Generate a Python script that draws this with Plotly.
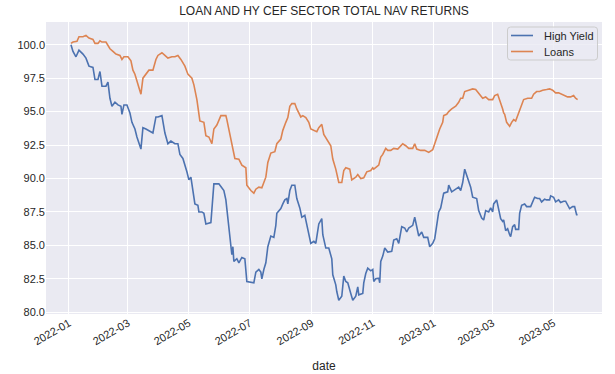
import plotly.graph_objects as go

# ---- data ----
hy_dates = [
    "2022-01-03", "2022-01-05", "2022-01-08", "2022-01-11", "2022-01-15", "2022-01-18", "2022-01-21", "2022-01-25", "2022-01-27", "2022-01-30",
    "2022-02-01", "2022-02-03", "2022-02-07", "2022-02-09", "2022-02-11", "2022-02-13", "2022-02-16", "2022-02-19", "2022-02-22", "2022-02-23", "2022-02-25", "2022-02-28",
    "2022-03-03", "2022-03-05", "2022-03-08", "2022-03-10", "2022-03-14", "2022-03-16", "2022-03-19", "2022-03-23", "2022-03-26", "2022-03-29", "2022-03-31",
    "2022-04-04", "2022-04-07", "2022-04-10", "2022-04-13", "2022-04-17", "2022-04-20", "2022-04-22", "2022-04-25", "2022-04-29",
    "2022-05-01", "2022-05-03", "2022-05-05", "2022-05-07", "2022-05-10", "2022-05-11", "2022-05-14", "2022-05-16", "2022-05-18", "2022-05-23", "2022-05-26", "2022-05-31",
    "2022-06-02", "2022-06-05", "2022-06-07", "2022-06-09", "2022-06-11", "2022-06-13", "2022-06-14", "2022-06-15", "2022-06-18", "2022-06-20", "2022-06-23", "2022-06-26", "2022-06-28",
    "2022-07-02", "2022-07-05", "2022-07-07", "2022-07-10", "2022-07-12", "2022-07-13", "2022-07-15", "2022-07-17", "2022-07-19", "2022-07-22", "2022-07-25", "2022-07-27", "2022-07-28",
    "2022-08-01", "2022-08-03", "2022-08-05", "2022-08-07", "2022-08-08", "2022-08-10", "2022-08-12", "2022-08-15", "2022-08-17", "2022-08-20", "2022-08-22", "2022-08-25", "2022-08-27", "2022-08-29", "2022-08-31",
    "2022-09-03", "2022-09-05", "2022-09-08", "2022-09-11", "2022-09-12", "2022-09-15", "2022-09-18", "2022-09-21", "2022-09-22", "2022-09-25", "2022-09-26", "2022-09-28",
    "2022-10-01", "2022-10-03", "2022-10-05", "2022-10-07", "2022-10-10", "2022-10-12", "2022-10-15", "2022-10-17", "2022-10-18", "2022-10-22", "2022-10-23", "2022-10-25", "2022-10-27", "2022-10-30",
    "2022-11-01", "2022-11-02", "2022-11-04", "2022-11-07", "2022-11-08", "2022-11-09", "2022-11-11", "2022-11-13", "2022-11-16", "2022-11-20", "2022-11-22", "2022-11-25", "2022-11-27", "2022-11-30",
    "2022-12-03", "2022-12-05", "2022-12-07", "2022-12-11", "2022-12-13", "2022-12-15", "2022-12-17", "2022-12-20", "2022-12-22", "2022-12-26", "2022-12-28", "2022-12-31",
    "2023-01-02", "2023-01-05", "2023-01-06", "2023-01-08", "2023-01-11", "2023-01-15", "2023-01-16", "2023-01-19", "2023-01-23", "2023-01-26", "2023-01-28", "2023-01-30",
    "2023-02-01", "2023-02-03", "2023-02-05", "2023-02-07", "2023-02-09", "2023-02-13", "2023-02-15", "2023-02-18", "2023-02-20", "2023-02-22", "2023-02-25", "2023-02-27",
    "2023-03-01", "2023-03-02", "2023-03-05", "2023-03-07", "2023-03-09", "2023-03-11", "2023-03-12", "2023-03-14", "2023-03-16", "2023-03-18", "2023-03-19", "2023-03-21", "2023-03-23", "2023-03-24", "2023-03-27", "2023-03-28", "2023-03-30",
    "2023-04-02", "2023-04-04", "2023-04-08", "2023-04-11", "2023-04-12", "2023-04-15", "2023-04-17", "2023-04-19", "2023-04-22", "2023-04-24", "2023-04-27", "2023-04-28",
    "2023-05-01", "2023-05-03", "2023-05-06", "2023-05-08", "2023-05-11", "2023-05-13", "2023-05-15", "2023-05-17", "2023-05-20", "2023-05-22", "2023-05-24", "2023-05-25",
]
hy_values = [
    100.0, 99.5, 99.1, 99.6, 99.3, 99.0, 98.4, 98.3, 97.4, 97.4,
    98.0, 96.9, 96.9, 97.2, 96.0, 95.4, 95.7, 95.5, 95.4, 94.8, 95.5, 95.5,
    94.9, 94.2, 93.7, 93.1, 92.2, 93.8, 93.7, 93.5, 93.4, 94.6, 94.6,
    94.7, 93.4, 92.6, 92.8, 92.6, 92.6, 91.8, 91.5, 90.5,
    89.9, 90.1, 88.9, 88.1, 88.0, 87.5, 87.5, 87.4, 86.6, 86.7, 89.6, 89.6,
    89.4, 89.1, 88.4, 87.0, 85.9, 84.3, 84.9, 83.8, 84.0, 83.7, 84.1, 84.0, 82.3,
    82.25, 82.2, 83.0, 83.2, 83.0, 82.5, 83.2, 83.7, 84.9, 85.7, 85.6, 86.5, 87.4,
    87.75, 88.1, 88.4, 88.5, 88.1, 89.1, 89.5, 89.5, 88.5, 87.8, 87.1, 87.25, 86.6, 86.0, 85.15,
    85.3, 85.15, 86.6, 87.0, 85.8, 84.8, 84.8, 84.0, 82.8, 82.05, 81.55, 80.9,
    81.2, 82.7, 82.3, 82.2, 81.4, 80.9, 81.2, 81.9, 81.3, 81.4, 82.2, 82.9, 83.3, 83.1,
    83.2, 82.3, 82.5, 82.55, 82.2, 83.8, 84.2, 84.8, 84.5, 84.55, 85.4, 85.5, 85.15, 86.4,
    86.3, 86.0, 86.3, 86.5, 87.1, 86.3, 85.7, 86.0, 85.6, 85.6, 84.9, 85.15,
    85.5, 87.0, 87.5, 87.8, 88.9, 89.0, 89.5, 89.0, 89.2, 89.35, 89.1, 89.7,
    90.7, 90.2, 89.7, 89.35, 88.6, 88.5, 87.6, 87.05, 86.9, 87.6, 87.5, 87.8,
    87.5, 88.1, 88.4, 87.6, 87.0, 86.8, 86.9, 86.1, 86.25, 85.8, 85.65, 86.4, 86.55, 86.2, 86.2, 87.4, 88.0,
    88.1, 87.9, 87.9, 88.4, 88.6, 88.5, 88.5, 88.25, 88.45, 88.4, 88.4, 88.7,
    88.6, 88.25, 88.4, 88.2, 88.3, 88.3, 88.0, 87.75, 87.9, 87.9, 87.3, 87.3,
]

loan_dates = [
    "2022-01-03", "2022-01-05", "2022-01-09", "2022-01-11", "2022-01-15", "2022-01-18", "2022-01-21", "2022-01-25", "2022-01-27", "2022-01-30",
    "2022-02-01", "2022-02-03", "2022-02-07", "2022-02-11", "2022-02-14", "2022-02-17", "2022-02-21", "2022-02-23", "2022-02-25",
    "2022-03-01", "2022-03-04", "2022-03-06", "2022-03-08", "2022-03-11", "2022-03-13", "2022-03-14", "2022-03-16", "2022-03-20", "2022-03-22", "2022-03-26", "2022-03-29", "2022-03-31",
    "2022-04-04", "2022-04-07", "2022-04-10", "2022-04-14", "2022-04-17", "2022-04-20", "2022-04-23", "2022-04-27", "2022-04-30",
    "2022-05-04", "2022-05-06", "2022-05-09", "2022-05-12", "2022-05-16", "2022-05-18", "2022-05-21", "2022-05-24", "2022-05-26", "2022-05-29",
    "2022-06-02", "2022-06-07", "2022-06-08", "2022-06-11", "2022-06-13", "2022-06-14", "2022-06-16", "2022-06-20", "2022-06-23", "2022-06-27", "2022-06-28",
    "2022-07-02", "2022-07-05", "2022-07-07", "2022-07-10", "2022-07-13", "2022-07-15", "2022-07-17", "2022-07-19", "2022-07-22", "2022-07-26", "2022-07-28",
    "2022-08-01", "2022-08-03", "2022-08-06", "2022-08-08", "2022-08-10", "2022-08-12", "2022-08-15", "2022-08-17", "2022-08-21", "2022-08-23", "2022-08-26", "2022-08-29", "2022-08-31",
    "2022-09-03", "2022-09-06", "2022-09-08", "2022-09-11", "2022-09-13", "2022-09-16", "2022-09-20", "2022-09-22", "2022-09-25", "2022-09-28",
    "2022-10-01", "2022-10-03", "2022-10-05", "2022-10-09", "2022-10-11", "2022-10-15", "2022-10-17", "2022-10-20", "2022-10-23", "2022-10-26", "2022-10-30",
    "2022-11-01", "2022-11-02", "2022-11-06", "2022-11-07", "2022-11-09", "2022-11-11", "2022-11-14", "2022-11-16", "2022-11-19", "2022-11-22", "2022-11-26", "2022-11-29",
    "2022-12-01", "2022-12-04", "2022-12-07", "2022-12-11", "2022-12-13", "2022-12-15", "2022-12-19", "2022-12-23", "2022-12-27", "2022-12-31",
    "2023-01-02", "2023-01-05", "2023-01-07", "2023-01-10", "2023-01-11", "2023-01-14", "2023-01-16", "2023-01-19", "2023-01-23", "2023-01-26", "2023-01-28", "2023-01-30",
    "2023-02-01", "2023-02-05", "2023-02-07", "2023-02-09", "2023-02-12", "2023-02-15", "2023-02-17", "2023-02-19", "2023-02-22", "2023-02-25",
    "2023-03-01", "2023-03-03", "2023-03-06", "2023-03-08", "2023-03-11", "2023-03-12", "2023-03-13", "2023-03-15", "2023-03-17", "2023-03-18", "2023-03-20", "2023-03-22", "2023-03-24", "2023-03-26", "2023-03-28", "2023-03-30",
    "2023-04-01", "2023-04-05", "2023-04-09", "2023-04-11", "2023-04-14", "2023-04-17", "2023-04-20", "2023-04-24", "2023-04-27", "2023-04-30",
    "2023-05-03", "2023-05-06", "2023-05-09", "2023-05-13", "2023-05-15", "2023-05-18", "2023-05-21", "2023-05-23", "2023-05-25",
]
loan_values = [
    100.1, 100.2, 100.25, 100.6, 100.6, 100.7, 100.5, 100.4, 100.1, 100.1,
    100.3, 100.2, 100.2, 99.7, 99.5, 99.3, 99.2, 98.9, 99.1,
    99.1, 98.8, 98.1, 97.8, 97.0, 96.5, 96.3, 97.5, 97.9, 98.1, 98.1, 98.9, 99.2,
    99.4, 99.2, 99.0, 99.1, 99.1, 99.2, 98.9, 98.4, 97.8,
    97.5, 97.0, 95.9, 94.3, 94.2, 93.2, 93.1, 92.6, 93.7, 94.0,
    94.7, 94.7, 94.4, 93.2, 92.45, 92.2, 91.5, 91.45, 91.0, 90.8, 89.5,
    89.1, 88.9, 89.2, 89.35, 89.3, 89.7, 90.1, 91.2, 91.9, 92.0, 92.6,
    92.95, 93.6, 94.2, 94.55, 95.4, 95.6, 95.6, 95.2, 94.6, 94.7, 94.55, 94.2, 93.7,
    93.6, 93.5, 93.8, 94.05, 93.3, 92.95, 92.45, 91.45, 90.7, 89.7,
    89.7, 90.6, 90.8, 90.7, 89.9, 90.1, 90.3, 90.0, 90.05, 90.5, 90.6,
    90.8, 90.7, 90.95, 91.0, 91.6, 91.8, 92.25, 92.1, 92.1, 92.25, 92.2, 92.4,
    92.6, 92.45, 92.25, 92.25, 92.6, 92.2, 92.1, 92.1, 91.95, 92.15,
    92.6, 93.3, 93.7, 94.2, 94.7, 94.8, 95.0, 95.2, 95.4, 95.7, 96.0, 96.0,
    96.5, 96.6, 96.65, 96.7, 96.65, 96.4, 96.2, 96.0, 96.1, 95.9,
    95.9, 96.2, 96.3, 95.9, 95.2, 94.9, 94.8, 94.2, 94.05, 93.9, 94.2, 94.4, 94.3, 94.7, 95.2, 95.6,
    95.9, 96.0, 96.0, 96.3, 96.5, 96.5, 96.6, 96.65, 96.7, 96.6,
    96.4, 96.4, 96.3, 96.2, 96.1, 96.1, 96.2, 96.0, 95.9,
]

series_names = ["High Yield", "Loans"]
series_colors = ["#4C72B0", "#DD8452"]
title_text = "LOAN AND HY CEF SECTOR TOTAL NAV RETURNS"
x_label = "date"
y_ticks = [80.0, 82.5, 85.0, 87.5, 90.0, 92.5, 95.0, 97.5, 100.0]

assert len(hy_dates) == len(hy_values), (len(hy_dates), len(hy_values))
assert len(loan_dates) == len(loan_values), (len(loan_dates), len(loan_values))

FONT = "Liberation Sans, Arial, sans-serif"
TXT = "#262626"
W, H = 615, 374
L, R, T, B = 46, 13, 22, 60
PW, PH = W - L - R, H - T - B


def px(x):  # pixel x -> paper
    return (x - L) / PW


def py(y):  # pixel y -> paper
    return (H - B - y) / PH


fig = go.Figure()
fig.add_trace(go.Scatter(x=hy_dates, y=hy_values, mode="lines", name=series_names[0],
                         line=dict(color=series_colors[0], width=1.6)))
fig.add_trace(go.Scatter(x=loan_dates, y=loan_values, mode="lines", name=series_names[1],
                         line=dict(color=series_colors[1], width=1.6)))

# matplotlib-style legend box (rounded, translucent)
x0, x1, y0, y1, r = 507.5, 597.5, 27, 60, 3
path = (f"M {px(x0 + r)},{py(y0)} L {px(x1 - r)},{py(y0)} "
        f"Q {px(x1)},{py(y0)} {px(x1)},{py(y0 + r)} L {px(x1)},{py(y1 - r)} "
        f"Q {px(x1)},{py(y1)} {px(x1 - r)},{py(y1)} L {px(x0 + r)},{py(y1)} "
        f"Q {px(x0)},{py(y1)} {px(x0)},{py(y1 - r)} L {px(x0)},{py(y0 + r)} "
        f"Q {px(x0)},{py(y0)} {px(x0 + r)},{py(y0)} Z")
fig.add_shape(type="path", path=path, xref="paper", yref="paper", layer="above",
              fillcolor="rgba(234,234,242,0.8)", line=dict(color="#CCCCCC", width=1))
for i, (name, col) in enumerate(zip(series_names, series_colors)):
    row_y = 35.5 + 16 * i
    fig.add_shape(type="line", xref="paper", yref="paper", layer="above",
                  x0=px(511), x1=px(533), y0=py(row_y), y1=py(row_y),
                  line=dict(color=col, width=1.6))
    fig.add_annotation(text=name, xref="paper", yref="paper", x=px(541.5), y=py(row_y),
                       xanchor="left", yanchor="middle", showarrow=False,
                       font=dict(family=FONT, size=11, color=TXT))

fig.update_layout(
    width=W, height=H,
    margin=dict(l=L, r=R, t=T, b=B),
    paper_bgcolor="white",
    plot_bgcolor="#EAEAF2",
    font=dict(family=FONT, size=11, color=TXT),
    title=dict(text=title_text, x=(L + W - R) / 2 / W, xanchor="center",
               y=1 - 11 / H, yanchor="middle", font=dict(size=12, color=TXT)),
    showlegend=False,
)
fig.update_xaxes(
    range=["2021-12-09", "2023-06-18 10:00"],
    tick0="2022-01-01", dtick="M2", tickformat="%Y-%m", tickangle=-30,
    showgrid=True, gridcolor="white", gridwidth=1, zeroline=False,
    showline=False, ticks="", tickfont=dict(size=11, color=TXT),
    title=dict(text=x_label, font=dict(size=12, color=TXT), standoff=15),
    automargin=False,
)
fig.update_yaxes(
    range=[79.87, 101.7], tickvals=y_ticks, ticktext=[f"{v:.1f}" for v in y_ticks],
    showgrid=True, gridcolor="white", gridwidth=1, zeroline=False,
    showline=False, ticks="", tickfont=dict(size=11, color=TXT),
    automargin=False,
)

fig.write_html("out.html", config={"displayModeBar": False},
               post_script="document.body.style.margin='0';document.body.style.overflow='hidden';")
